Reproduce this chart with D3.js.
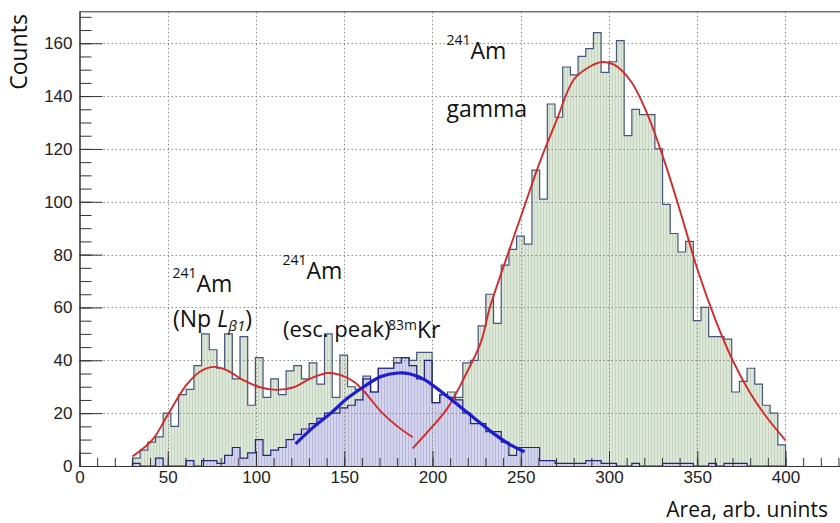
<!DOCTYPE html>
<html><head><meta charset="utf-8">
<script src="https://cdn.jsdelivr.net/npm/d3@7"></script>
<style>body{margin:0;background:#fff}svg{display:block}</style>
</head><body>
<svg id="chart" width="840" height="523"></svg>
<script>
// ---------------- data ----------------
const binLow = 30, binHigh = 400;           // histogram range (arb. units)
const greenCounts = [
  3, 6, 9, 11, 20, 15, 27, 29, 38, 50,
  44, 37, 50, 33, 49, 23, 41, 26, 33, 27,
  36, 38, 33, 39, 31, 50, 26, 42, 30, 29,
  34, 28, 37, 37, 41, 41, 40, 43, 43, 24,
  27, 28, 26, 39, 40, 53, 65, 54, 76, 82,
  87, 84, 112, 101, 137, 132, 151, 148, 155, 158,
  164, 149, 153, 161, 125, 135, 133, 133, 120, 99,
  88, 81, 85, 55, 60, 49, 49, 48, 28, 32,
  37, 31, 23, 20, 8
];
const blueCounts = [
  1, 0, 0, 3, 0, 0, 0, 2, 0, 2,
  2, 1, 4, 7, 3, 5, 10, 4, 6, 7,
  10, 12, 14, 16, 18, 20, 20, 22, 23, 25,
  33, 28, 37, 37, 39, 41, 38, 33, 40, 24,
  27, 26, 25, 20, 16, 16, 13, 13, 9, 4,
  7, 7, 7, 2, 2, 1, 1, 1, 1, 2,
  2, 1, 1, 0, 0, 1, 0, 0, 0, 1,
  1, 1, 1, 0, 0, 1, 0, 1, 1, 1,
  0, 0, 0, 0, 0
];
// fit curves
const redLeftX  = [30, 41.4, 50, 60.5, 68, 75.7, 83.3, 92.8, 102.3, 111.8, 121.3, 130.8, 140.5, 148, 155.5, 161.3, 170.8, 180.3, 188.8];
const redLeftY  = [3.6, 10, 19.4, 30.6, 35.6, 37.5, 36.3, 32.5, 29.8, 28.8, 29.8, 33.1, 35.2, 34.4, 31.9, 28.2, 20.6, 14.9, 10.9];
const redRightX = [188.8, 199.1, 208.6, 218, 227.5, 232.3, 241.8, 251.3, 260.9, 270.4, 280, 289.5, 296.2, 302.9, 312.4, 321.9, 331.5, 341, 350.6, 360.1, 369.7, 379.2, 388.7, 400];
const redRightY = [6.7, 14.3, 22, 33.5, 47, 59.5, 78.5, 96.8, 115.2, 131, 146.2, 151.3, 152.9, 151.9, 145.6, 132.9, 115.2, 94.9, 73.4, 55.7, 40.5, 28.5, 19, 9.7];
const blueFitX  = [122.4, 132.9, 142.4, 151.9, 161.3, 170.8, 180.3, 186.9, 195.4, 204.8, 214.3, 223.7, 233.2, 242.7, 252.1];
const blueFitY  = [8.4, 14.9, 20, 25.7, 30.1, 33.9, 35.2, 34.9, 32.7, 28.2, 23.2, 18.1, 13, 8.6, 5.4];
const xTickLabels = [0, 50, 100, 150, 200, 250, 300, 350, 400];
const yTickLabels = [0, 20, 40, 60, 80, 100, 120, 140, 160];

// ---------------- layout ----------------
const svg = d3.select('#chart');
const X0 = 79.5, Y0 = 466, YTOP = 11.8;
const x = d3.scaleLinear().domain([0, 440]).range([X0, X0 + 440 * 1.765]);
const y = d3.scaleLinear().domain([0, 171.9]).range([Y0, YTOP]);

const defs = svg.append('defs');
function pat(id, bg, fg) {
  const p = defs.append('pattern').attr('id', id).attr('patternUnits', 'userSpaceOnUse')
    .attr('width', 3).attr('height', 3);
  p.append('rect').attr('width', 3).attr('height', 3).attr('fill', bg);
  p.append('rect').attr('x', 0).attr('width', 1).attr('height', 3).attr('fill', fg);
}
pat('pGreen', '#dee8d8', '#c6d4c2');
pat('pBlue', '#d4d4ed', '#b8b8dc');

const N = greenCounts.length;
const edges = d3.range(N + 1).map(i => binLow + i * (binHigh - binLow) / N);
function stepData(counts) {
  const d = [{ x: binLow, v: 0 }];
  counts.forEach((c, i) => d.push({ x: edges[i], v: c }));
  d.push({ x: binHigh, v: counts[counts.length - 1] });
  d.push({ x: binHigh, v: 0 });
  return d;
}
const stepLine = d3.line().curve(d3.curveStepAfter).x(d => x(d.x)).y(d => y(d.v));
const stepArea = d3.area().curve(d3.curveStepAfter).x(d => x(d.x)).y0(y(0)).y1(d => y(d.v));

const gData = stepData(greenCounts), bData = stepData(blueCounts);

// fills
svg.append('path').attr('d', stepArea(gData)).attr('fill', 'url(#pGreen)');
svg.append('path').attr('d', stepArea(bData)).attr('fill', 'url(#pBlue)');

// grid
const grid = svg.append('g').attr('stroke', '#8a8a8a').attr('stroke-width', 1).attr('stroke-dasharray', '1.5,2.5');
yTickLabels.filter(v => v > 0).forEach(v => {
  grid.append('line').attr('x1', X0).attr('x2', 840).attr('y1', Math.round(y(v)) + 0.5).attr('y2', Math.round(y(v)) + 0.5);
});
xTickLabels.filter(v => v > 0).forEach(v => {
  grid.append('line').attr('y1', YTOP).attr('y2', Y0).attr('x1', Math.round(x(v)) + 0.5).attr('x2', Math.round(x(v)) + 0.5);
});

// outlines
svg.append('path').attr('d', stepLine(gData)).attr('fill', 'none').attr('stroke', '#46567a').attr('stroke-width', 1.2);
svg.append('path').attr('d', stepLine(bData)).attr('fill', 'none').attr('stroke', '#24247e').attr('stroke-width', 1.2);

// fit curves
const fitLine = d3.line().curve(d3.curveCatmullRom.alpha(0.5)).x(d => x(d[0])).y(d => y(d[1]));
svg.append('path').attr('d', fitLine(d3.zip(redLeftX, redLeftY))).attr('fill', 'none').attr('stroke', '#d42a2a').attr('stroke-width', 1.9);
svg.append('path').attr('d', fitLine(d3.zip(redRightX, redRightY))).attr('fill', 'none').attr('stroke', '#d42a2a').attr('stroke-width', 1.9);
svg.append('path').attr('d', fitLine(d3.zip(blueFitX, blueFitY))).attr('fill', 'none').attr('stroke', '#1c1cd2').attr('stroke-width', 3.2);

// frame top
svg.append('line').attr('x1', X0).attr('x2', 840).attr('y1', YTOP).attr('y2', YTOP).attr('stroke', '#333').attr('stroke-width', 1);

// axes
const tickFont = '"Liberation Sans", Arial, sans-serif';
const yMinor = d3.axisLeft(y).tickValues(d3.range(0, 171, 5)).tickSizeInner(-12).tickSizeOuter(0).tickFormat('');
const yMajor = d3.axisLeft(y).tickValues(yTickLabels).tickSizeInner(-23).tickSizeOuter(0).tickPadding(7);
const gy1 = svg.append('g').attr('transform', `translate(${X0},0)`).call(yMinor);
const gy2 = svg.append('g').attr('transform', `translate(${X0},0)`).call(yMajor);
[gy1, gy2].forEach(g => {
  g.select('.domain').attr('stroke', '#333').attr('d', `M0.5,${YTOP}V${Y0}`);
  g.selectAll('.tick line').attr('stroke', '#333');
  g.selectAll('text').attr('font-family', tickFont).attr('font-size', 17).attr('fill', '#222');
});
const xMinor = d3.axisBottom(x).tickValues(d3.range(0, 440, 10)).tickSizeInner(-8).tickSizeOuter(0).tickFormat('');
const xMajor = d3.axisBottom(x).tickValues(xTickLabels).tickSizeInner(-15).tickSizeOuter(0).tickPadding(5);
const gx1 = svg.append('g').attr('transform', `translate(0,${Y0})`).call(xMinor);
const gx2 = svg.append('g').attr('transform', `translate(0,${Y0})`).call(xMajor);
[gx1, gx2].forEach(g => {
  g.select('.domain').attr('stroke', '#333').attr('d', `M${X0},0.5H840`);
  g.selectAll('.tick line').attr('stroke', '#333');
  g.selectAll('text').attr('font-family', tickFont).attr('font-size', 17).attr('fill', '#222');
});

// labels
const annFont = '"Open Sans", "Noto Sans", sans-serif';
svg.append('text').attr('transform', 'translate(27,52) rotate(-90)').attr('text-anchor', 'middle')
  .attr('font-family', annFont).attr('font-size', 23).attr('fill', '#111').text('Counts');
svg.append('text').attr('x', 828).attr('y', 517).attr('text-anchor', 'end')
  .attr('font-family', annFont).attr('font-size', 21).attr('fill', '#111').text('Area, arb. unints');

function iso(xp, yp, mass, sym) {
  const t = svg.append('text').attr('x', xp).attr('y', yp).attr('font-family', annFont).attr('fill', '#111');
  t.append('tspan').attr('font-size', 14).attr('dy', -14).text(mass);
  t.append('tspan').attr('font-size', 23).attr('dy', 14).text(sym);
  return t;
}
iso(172.5, 291.5, '241', 'Am');
iso(282.5, 278.5, '241', 'Am');
iso(446.5, 58.5, '241', 'Am');
svg.append('text').attr('x', 446.5).attr('y', 117).attr('font-family', annFont).attr('font-size', 23).attr('fill', '#111').text('gamma');

const np = svg.append('text').attr('x', 173).attr('y', 327).attr('font-family', annFont).attr('font-size', 23).attr('fill', '#111');
np.append('tspan').text('(Np ');
np.append('tspan').attr('font-style', 'italic').text('L');
np.append('tspan').attr('font-style', 'italic').attr('font-size', 15).attr('dy', 4).text('β1');
np.append('tspan').attr('dy', -4).text(')');

const esc = svg.append('text').attr('x', 283).attr('y', 337).attr('font-family', annFont).attr('font-size', 22).attr('fill', '#111');
esc.append('tspan').text('(esc. peak)');
const kr = svg.append('text').attr('x', 388).attr('y', 338).attr('font-family', annFont).attr('fill', '#111');
kr.append('tspan').attr('font-size', 14).attr('dy', -8).text('83m');
kr.append('tspan').attr('font-size', 23).attr('dy', 8).text('Kr');
</script>
</body></html>
